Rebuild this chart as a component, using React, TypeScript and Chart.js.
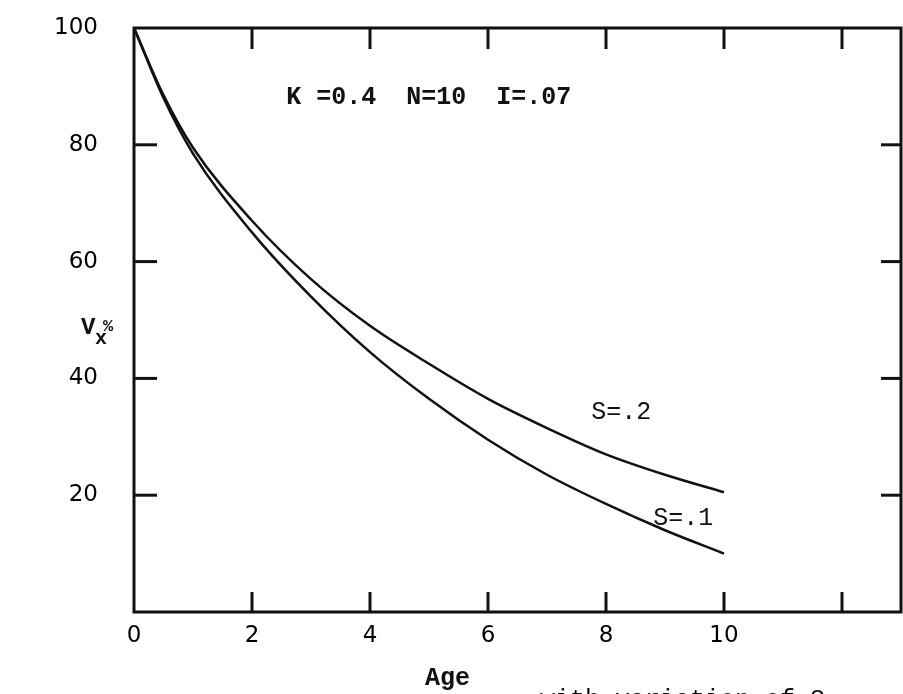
import React, { useEffect, useRef } from 'react';
import { Chart, registerables } from 'chart.js';

Chart.register(...registerables);

// ---- data ----
const ages = [0, 0.5, 1, 2, 3, 4, 5, 6, 7, 8, 9, 10];
const valuesS1 = [100, 88, 78.5, 65, 54, 44.5, 36.5, 29.5, 23.5, 18.5, 14, 10];
const valuesS2 = [100, 88.5, 79.5, 67, 57, 49, 42.5, 36.5, 31.5, 27, 23.5, 20.5];

const xTickValues = [0, 2, 4, 6, 8, 10, 12];
const xTickLabels = ['0', '2', '4', '6', '8', '10', ''];
const yTickValues = [0, 20, 40, 60, 80, 100];
const yTickLabels = ['', '20', '40', '60', '80', '100'];
const xMarkValues = [2, 4, 6, 8, 10, 12];
const yMarkValues = [20, 40, 60, 80];

const paramText = 'K =0.4  N=10  I=.07';
const labelS1 = 'S=.1';
const labelS2 = 'S=.2';
const xTitle = 'Age';
const captionText = 'with variation of S';

const INK = '#111';
const MONO = '"Liberation Mono", "DejaVu Sans Mono", monospace';
const SANS = '"DejaVu Sans", sans-serif';

const framePlugin = {
  id: 'frameAndText',
  afterDraw(chart: any) {
    const ctx = chart.ctx as CanvasRenderingContext2D;
    const { left, right, top, bottom } = chart.chartArea;
    const xs = chart.scales.x;
    const ys = chart.scales.y;
    ctx.save();
    ctx.strokeStyle = INK;
    ctx.lineWidth = 3;
    ctx.lineCap = 'butt';
    ctx.strokeRect(left, top, right - left, bottom - top);
    const seg = (x1: number, y1: number, x2: number, y2: number) => {
      ctx.beginPath();
      ctx.moveTo(x1, y1);
      ctx.lineTo(x2, y2);
      ctx.stroke();
    };
    xMarkValues.forEach((v) => {
      const px = xs.getPixelForValue(v);
      seg(px, bottom, px, bottom - 20);
      seg(px, top, px, top + 21);
    });
    yMarkValues.forEach((v) => {
      const py = ys.getPixelForValue(v);
      seg(left, py, left + 23, py);
      seg(right, py, right - 20, py);
    });

    ctx.fillStyle = INK;
    ctx.textBaseline = 'middle';
    ctx.textAlign = 'left';
    // parameter annotation
    ctx.font = `bold 25px ${MONO}`;
    ctx.fillText(paramText, xs.getPixelForValue(2.58), ys.getPixelForValue(88));
    // curve labels
    ctx.font = `25px ${MONO}`;
    ctx.fillText(labelS2, xs.getPixelForValue(7.75), ys.getPixelForValue(34.2));
    ctx.fillText(labelS1, xs.getPixelForValue(8.8), ys.getPixelForValue(16.1));

    // x axis title
    ctx.font = `bold 25px ${MONO}`;
    ctx.fillText(xTitle, 425, 679);
    // cut-off caption
    ctx.font = `25px ${MONO}`;
    ctx.textBaseline = 'top';
    ctx.fillText(captionText, 540, 688);

    // y axis title: V with subscript x and %
    ctx.textBaseline = 'alphabetic';
    ctx.font = `bold 24px ${MONO}`;
    ctx.fillText('V', 81, 334);
    ctx.font = `bold 20px ${MONO}`;
    ctx.fillText('x', 95, 344);
    ctx.font = `bold 17px ${MONO}`;
    ctx.fillText('%', 103, 331);
    ctx.restore();
  },
};

export default function App() {
  const canvasRef = useRef<HTMLCanvasElement | null>(null);

  useEffect(() => {
    const canvas = canvasRef.current;
    if (!canvas) return;
    const chart = new Chart(canvas, {
      type: 'line',
      data: {
        datasets: [
          {
            label: labelS1,
            data: ages.map((a, i) => ({ x: a, y: valuesS1[i] })),
            borderColor: INK,
            borderWidth: 2.5,
            pointRadius: 0,
            cubicInterpolationMode: 'monotone',
            fill: false,
          },
          {
            label: labelS2,
            data: ages.map((a, i) => ({ x: a, y: valuesS2[i] })),
            borderColor: INK,
            borderWidth: 2.5,
            pointRadius: 0,
            cubicInterpolationMode: 'monotone',
            fill: false,
          },
        ],
      },
      options: {
        animation: false,
        responsive: false,
        maintainAspectRatio: false,
        layout: { padding: { left: 0, top: 28, right: 2, bottom: 0 } },
        plugins: { legend: { display: false }, tooltip: { enabled: false } },
        scales: {
          x: {
            type: 'linear',
            min: 0,
            max: 13,
            afterBuildTicks: (scale: any) => {
              scale.ticks = xTickValues.map((v) => ({ value: v }));
            },
            afterFit: (scale: any) => {
              scale.height = 82;
              scale.paddingLeft = 0;
              scale.paddingRight = 0;
            },
            grid: { display: false, drawTicks: false },
            border: { display: false },
            ticks: {
              autoSkip: false,
              maxRotation: 0,
              padding: 10,
              color: '#000',
              font: { family: SANS, size: 23 },
              callback: (v: any) => {
                const i = xTickValues.indexOf(Number(v));
                return i >= 0 ? xTickLabels[i] : '';
              },
            },
          },
          y: {
            type: 'linear',
            min: 0,
            max: 100,
            afterBuildTicks: (scale: any) => {
              scale.ticks = yTickValues.map((v) => ({ value: v }));
            },
            afterFit: (scale: any) => {
              scale.width = 134;
              scale.paddingTop = 0;
              scale.paddingBottom = 0;
            },
            grid: { display: false, drawTicks: false },
            border: { display: false },
            ticks: {
              autoSkip: false,
              padding: 36,
              color: '#000',
              font: { family: SANS, size: 23 },
              callback: (v: any) => {
                const i = yTickValues.indexOf(Number(v));
                return i >= 0 ? yTickLabels[i] : '';
              },
            },
          },
        },
      },
      plugins: [framePlugin],
    } as any);
    return () => chart.destroy();
  }, []);

  return (
    <div style={{ position: 'absolute', left: 0, top: 0, width: 903, height: 694, background: '#fff', overflow: 'hidden' }}>
      <canvas ref={canvasRef} width={903} height={694} style={{ display: 'block' }} />
    </div>
  );
}
